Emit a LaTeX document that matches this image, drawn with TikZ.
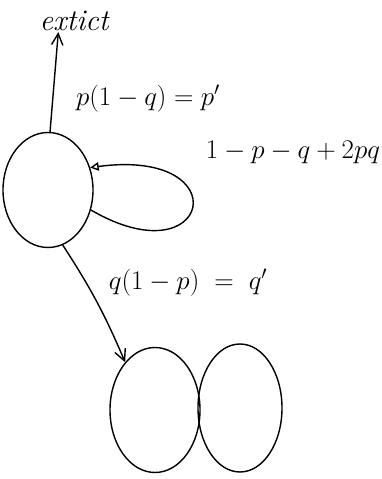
\RequirePackage{fix-cm}
\documentclass[tikz,border=0pt]{standalone}
\usepackage{amsmath}
\usetikzlibrary{arrows.meta,positioning,shapes.geometric}
\tikzset{
  etat/.style={ellipse, draw=black, line width=1.4pt, inner sep=0pt},
  lab/.style={font=\fontsize{27}{29}\selectfont, inner sep=1pt},
  arr/.style={-{Straight Barb[length=4mm, width=4mm]}, line width=1.4pt},
  boucle/.style={-{Triangle[open, length=3mm, width=3mm]}, line width=1.4pt},
}
\begin{document}
\begin{tikzpicture}[x=1pt, y=1pt]
    \useasboundingbox (0,0) rectangle (382,479);
    % states
    \node[etat, minimum width=90pt, minimum height=115pt] (a) at (48,289) {};
    \node[etat, minimum width=90pt, minimum height=125pt] (b1) at (155,69) {};
    \node[etat, minimum width=84pt, minimum height=128pt] (b2) at (240,71) {};
    \node[font=\fontsize{30}{32}\selectfont\itshape, inner sep=1pt] (ext) at (74,458) {extict};
    % labels
    \node[lab] (pl) at (148,380) {$p(1-q)=p'$};
    \node[lab] (sl) at (293,327) {$1-p-q+2pq$};
    \node[lab] (ql) at (188,196) {$q(1-p)\;=\;q'$};
    % transitions
    \draw[arr] (a.88) -- ([xshift=20pt]ext.south west);
    \draw[boucle] (a.-25) .. controls +(120pt,-70pt) and +(150pt,20pt) .. (a.28);
    \draw[arr] (a.-75) to[bend left=5] (b1.122);
\end{tikzpicture}
\end{document}
